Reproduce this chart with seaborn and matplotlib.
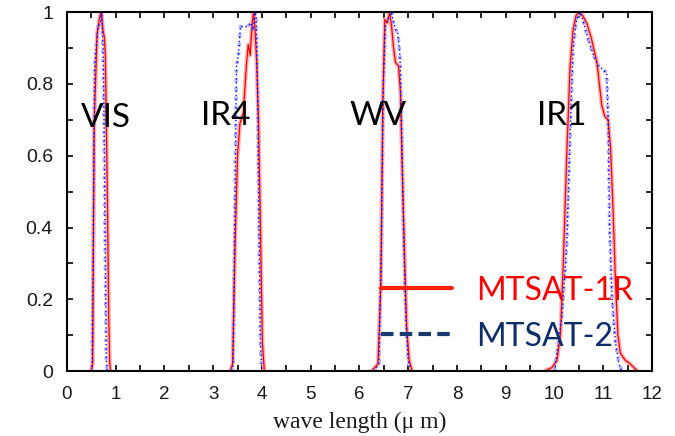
import numpy as np
import pandas as pd
import matplotlib
matplotlib.use("Agg")
import matplotlib.pyplot as plt
import seaborn as sns
from matplotlib.lines import Line2D
from matplotlib.ticker import MultipleLocator

# ---- data: spectral response functions ----
r_vis_x = [0.50, 0.53, 0.56, 0.62, 0.68, 0.71, 0.74, 0.77, 0.79, 0.83, 0.86, 0.88, 0.90]
r_vis_y = [0.00, 0.02, 0.68, 0.94, 0.99, 1.00, 0.95, 0.93, 0.88, 0.50, 0.15, 0.02, 0.00]
r_ir4_x = [3.35, 3.40, 3.45, 3.50, 3.55, 3.62, 3.68, 3.72, 3.76, 3.80, 3.83, 3.86, 3.89, 3.93, 3.97, 4.01, 4.05]
r_ir4_y = [0.00, 0.02, 0.35, 0.60, 0.69, 0.72, 0.85, 0.91, 0.88, 0.97, 1.00, 0.95, 0.87, 0.70, 0.40, 0.08, 0.00]
r_wv_x = [6.25, 6.38, 6.44, 6.48, 6.52, 6.57, 6.62, 6.66, 6.70, 6.74, 6.80, 6.84, 6.88, 6.93, 6.97, 7.02, 7.08]
r_wv_y = [0.00, 0.02, 0.25, 0.75, 0.98, 0.97, 1.00, 0.96, 0.90, 0.86, 0.85, 0.78, 0.55, 0.30, 0.12, 0.03, 0.00]
r_ir1_x = [9.80, 9.95, 10.05, 10.12, 10.18, 10.25, 10.32, 10.38, 10.44, 10.50, 10.58, 10.66, 10.75,
           10.87, 10.97, 11.03, 11.10, 11.15, 11.20, 11.25, 11.30, 11.35, 11.45, 11.55, 11.70]
r_ir1_y = [0.00, 0.01, 0.03, 0.10, 0.30, 0.60, 0.85, 0.95, 0.99, 1.00, 0.99, 0.97, 0.93,
           0.86, 0.74, 0.71, 0.70, 0.62, 0.45, 0.25, 0.10, 0.05, 0.03, 0.02, 0.00]

b_vis_x = [0.50, 0.52, 0.57, 0.64, 0.69, 0.71, 0.73, 0.75, 0.77, 0.79, 0.81, 0.83]
b_vis_y = [0.00, 0.02, 0.85, 0.96, 0.97, 1.00, 0.95, 0.85, 0.60, 0.30, 0.03, 0.00]
b_ir4_x = [3.38, 3.41, 3.45, 3.48, 3.52, 3.56, 3.60, 3.70, 3.78, 3.82, 3.86, 3.88, 3.91, 3.94, 3.97, 4.00]
b_ir4_y = [0.00, 0.02, 0.50, 0.85, 0.88, 0.96, 0.96, 0.96, 0.97, 0.95, 1.00, 0.99, 0.80, 0.40, 0.08, 0.00]
b_wv_x = [6.30, 6.40, 6.45, 6.49, 6.53, 6.58, 6.63, 6.66, 6.70, 6.75, 6.79, 6.83, 6.87, 6.91, 6.95, 7.00, 7.05]
b_wv_y = [0.00, 0.02, 0.35, 0.80, 0.96, 0.98, 0.99, 1.00, 0.97, 0.95, 0.94, 0.88, 0.65, 0.35, 0.15, 0.03, 0.00]
b_ir1_x = [10.00, 10.15, 10.25, 10.33, 10.38, 10.45, 10.52, 10.60, 10.70, 10.80, 10.90, 11.00, 11.07,
           11.10, 11.13, 11.18, 11.25, 11.32, 11.38]
b_ir1_y = [0.00, 0.15, 0.35, 0.70, 0.90, 0.98, 1.00, 0.97, 0.92, 0.88, 0.85, 0.84, 0.83,
           0.70, 0.40, 0.20, 0.08, 0.02, 0.00]

band_names = ["VIS", "IR4", "WV", "IR1"]
band_label_x = [0.80, 3.26, 6.38, 10.15]
band_label_y = [0.705, 0.71, 0.71, 0.71]
series_names = ["MTSAT-1R", "MTSAT-2"]
x_ticks = list(range(0, 13))
y_ticks = [0, 0.2, 0.4, 0.6, 0.8, 1.0]
y_tick_labels = ["0", "0.2", "0.4", "0.6", "0.8", "1"]

def frame(name, bands):
    rows = []
    for band, (xs, ys) in zip(band_names, bands):
        for x, y in zip(xs, ys):
            rows.append({"sat": name, "band": band, "x": x, "y": y})
    return pd.DataFrame(rows)

df_r = frame(series_names[0], [(r_vis_x, r_vis_y), (r_ir4_x, r_ir4_y), (r_wv_x, r_wv_y), (r_ir1_x, r_ir1_y)])
df_b = frame(series_names[1], [(b_vis_x, b_vis_y), (b_ir4_x, b_ir4_y), (b_wv_x, b_wv_y), (b_ir1_x, b_ir1_y)])

sns.set_style("ticks")
plt.rcParams["font.family"] = ["Liberation Sans", "DejaVu Sans"]

fig = plt.figure(figsize=(6.75, 4.36), dpi=100)
ax = fig.add_axes([0.099, 0.149, 0.867, 0.823])

# halos
sns.lineplot(data=df_r, x="x", y="y", units="band", estimator=None, sort=False,
             color="#ffb3b3", lw=3.0, ax=ax, legend=False)
sns.lineplot(data=df_b, x="x", y="y", units="band", estimator=None, sort=False,
             color="#b0b0ff", lw=2.6, linestyle=(0, (1, 1.5)), ax=ax, legend=False)
# cores
sns.lineplot(data=df_r, x="x", y="y", units="band", estimator=None, sort=False,
             color="#ff0000", lw=0.9, ax=ax, legend=False)
sns.lineplot(data=df_b, x="x", y="y", units="band", estimator=None, sort=False,
             color="#0000ff", lw=1.0, linestyle=(0, (1, 2)), ax=ax, legend=False)

for name, bx, by in zip(band_names, band_label_x, band_label_y):
    ax.text(bx, by, name, ha="center", va="center", fontsize=24, family="Lato", color="black")

ax.set_xlim(0, 12)
ax.set_ylim(0, 1)
ax.set_xticks(x_ticks)
ax.set_xticklabels([str(t) for t in x_ticks], fontsize=13.5)
ax.xaxis.set_minor_locator(MultipleLocator(0.5))
ax.set_yticks(y_ticks)
ax.set_yticklabels(y_tick_labels, fontsize=14)
ax.yaxis.set_minor_locator(MultipleLocator(0.1))
ax.tick_params(which="both", direction="in", top=True, right=True, length=4, width=1.2, colors="black")
ax.tick_params(axis="x", which="both", pad=11, labelcolor="#1a1a1a")
ax.tick_params(axis="y", which="both", pad=10, labelcolor="#1a1a1a")
for s in ax.spines.values():
    s.set_linewidth(1.5)
    s.set_color("black")
ax.set_xlabel("wave length (μ m)", family="Liberation Serif", fontsize=17, labelpad=6, color="#1a1a1a")
ax.set_ylabel("")

handles = [Line2D([], [], color="#ff2200", lw=3),
           Line2D([], [], color="#1a3a70", lw=3, linestyle=(0, (3, 1.5)))]
leg = ax.legend(handles, series_names, loc="lower right", bbox_to_anchor=(1.016, -0.026),
                frameon=False, prop={"family": "Lato", "size": 23}, handlelength=2.2,
                handletextpad=0.75, labelspacing=0.5, labelcolor=["#ff0000", "#0d2d6b"])

fig.savefig("out.png", dpi=100)
